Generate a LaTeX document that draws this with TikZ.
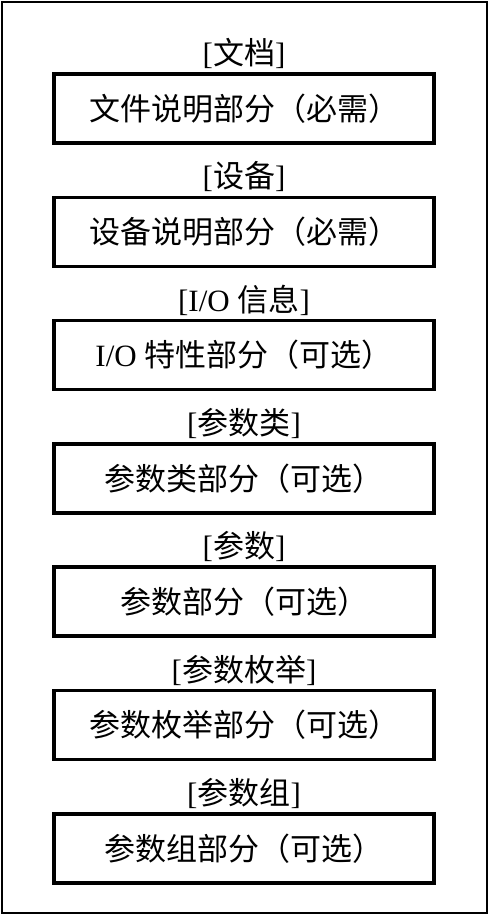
\documentclass[tikz,border=0pt]{standalone}
\usepackage{fontspec}
\setmainfont{Liberation Serif}
\newfontfamily\cjk{Noto Sans CJK SC}
\begin{document}
\begin{tikzpicture}[x=1pt,y=-1pt,
  part/.style={draw, line width=3.5pt, minimum width=380pt, minimum height=69pt, inner sep=0pt, font=\fontsize{31}{36}\selectfont},
  tag/.style={inner sep=0pt, font=\fontsize{31}{36}\selectfont}]
\useasboundingbox (0,0) rectangle (489,915);
\node[draw, line width=2.5pt, minimum width=485pt, minimum height=911pt, inner sep=0pt] (frame) at (244.5,457.5) {};
\foreach \i/\t/\b in {
  1/{\cjk 文件说明部分（必需）}/{[{\cjk 文档}]},
  2/{\cjk 设备说明部分（必需）}/{[{\cjk 设备}]},
  3/{I/O {\cjk 特性部分（可选）}}/{[I/O {\cjk 信息}]},
  4/{\cjk 参数类部分（可选）}/{[{\cjk 参数类}]},
  5/{\cjk 参数部分（可选）}/{[{\cjk 参数}]},
  6/{\cjk 参数枚举部分（可选）}/{[{\cjk 参数枚举}]},
  7/{\cjk 参数组部分（可选）}/{[{\cjk 参数组}]}} {
  \pgfmathsetmacro{\yy}{108.5+(\i-1)*123.3}
  \node[part] (p\i) at (244,\yy) {\t};
  \node[tag] (t\i) at (244,\yy-55) {\b};
}
\end{tikzpicture}
\end{document}
